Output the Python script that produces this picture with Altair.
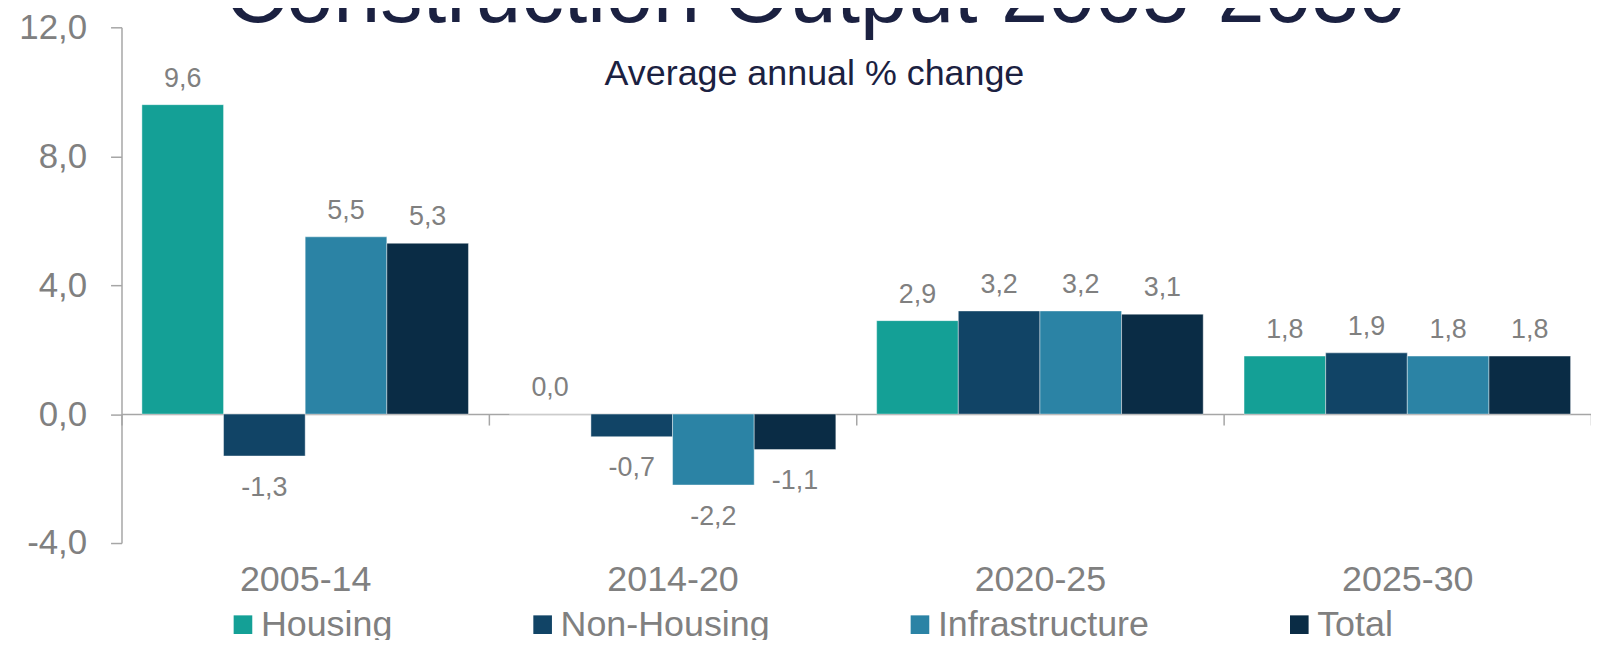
import altair as alt
import pandas as pd

# ---- data ----
periods = ["2005-14", "2014-20", "2020-25", "2025-30"]
series = ["Housing", "Non-Housing", "Infrastructure", "Total"]
housing = [9.6, 0.0, 2.9, 1.8]
non_housing = [-1.3, -0.7, 3.2, 1.9]
infrastructure = [5.5, -2.2, 3.2, 1.8]
total = [5.3, -1.1, 3.1, 1.8]
colors = ["#14a096", "#114466", "#2b83a5", "#0a2c45"]
y_ticks = [-4, 0, 4, 8, 12]
title_text = ["Construction Output 2005-2030"]
subtitle_text = ["Average annual % change"]

rows = []
for s, vals in zip(series, [housing, non_housing, infrastructure, total]):
    for p, v in zip(periods, vals):
        rows.append({"period": p, "series": s, "value": v,
                     "label": f"{v:.1f}".replace(".", ",")})
df = pd.DataFrame(rows)

# ---- style ----
W, H = 1476, 518
FONT = "Liberation Sans"
GRAY = "#808080"
AXIS = "#a6a6a6"
NAVY = "#1b2141"

x_enc = alt.X(
    "period:N", sort=periods,
    scale=alt.Scale(paddingInner=0, paddingOuter=0),
    axis=alt.Axis(
        title=None, offset=-H / 4, tickBand="extent",
        domainColor=AXIS, domainWidth=1.5, tickColor=AXIS, tickWidth=1.5,
        tickSize=11, labelFontSize=36, labelFont=FONT, labelColor=GRAY,
        labelBaseline="alphabetic", labelPadding=166, labelAngle=0,
    ),
)
xo_enc = alt.XOffset("series:N", sort=series,
                     scale=alt.Scale(paddingInner=0, paddingOuter=0.25))
y_enc = alt.Y(
    "value:Q",
    scale=alt.Scale(domain=[-4, 12], nice=False, zero=False),
    axis=alt.Axis(
        title=None, values=y_ticks, grid=False,
        labelExpr="replace(replace(format(datum.value, '.1f'), '.', ','), '\u2212', '-')",
        labelFontSize=35, labelFont=FONT, labelColor=GRAY, labelPadding=24,
        tickSize=11, tickColor=AXIS, tickWidth=1.5,
        domainColor=AXIS, domainWidth=1.5,
    ),
)
color_enc = alt.Color(
    "series:N", sort=series,
    scale=alt.Scale(domain=series, range=colors),
    legend=alt.Legend(
        title=None, orient="none", legendX=104, legendY=582,
        direction="horizontal", symbolType="square", symbolSize=350,
        symbolStrokeWidth=0, labelFontSize=36, labelFont=FONT,
        labelColor=GRAY, labelOffset=0, labelLimit=0, columnPadding=132,
        padding=0, symbolOffset=0,
    ),
)

base = alt.Chart(df)

bars = base.mark_bar(stroke="#ffffff", strokeWidth=0.7, strokeOpacity=0.6).encode(
    x=x_enc, xOffset=xo_enc, y=y_enc, color=color_enc
)

pos_labels = base.transform_filter("datum.value >= 0").mark_text(
    dy=-18, baseline="alphabetic", fontSize=27, font=FONT, color=GRAY
).encode(x=x_enc, xOffset=xo_enc, y=y_enc, text="label:N")

neg_labels = base.transform_filter("datum.value < 0").mark_text(
    dy=40, baseline="alphabetic", fontSize=27, font=FONT, color=GRAY
).encode(x=x_enc, xOffset=xo_enc, y=y_enc, text="label:N")

title = alt.Chart(pd.DataFrame({"t": title_text})).mark_text(
    fontSize=85, font=FONT, color=NAVY, baseline="alphabetic", align="center"
).encode(x=alt.value(697), y=alt.value(-5), text="t:N")

subtitle = alt.Chart(pd.DataFrame({"t": subtitle_text})).mark_text(
    fontSize=36, font=FONT, color=NAVY, baseline="alphabetic", align="center"
).encode(x=alt.value(696), y=alt.value(58), text="t:N")

chart = alt.layer(bars, pos_labels, neg_labels, title, subtitle).properties(
    width=W, height=H,
    padding={"left": 114, "top": 18, "right": 0, "bottom": 96},
    autosize=alt.AutoSizeParams(type="none"),
).configure_view(stroke=None)

chart.save("out.html", embed_options={"renderer": "svg", "actions": False})
